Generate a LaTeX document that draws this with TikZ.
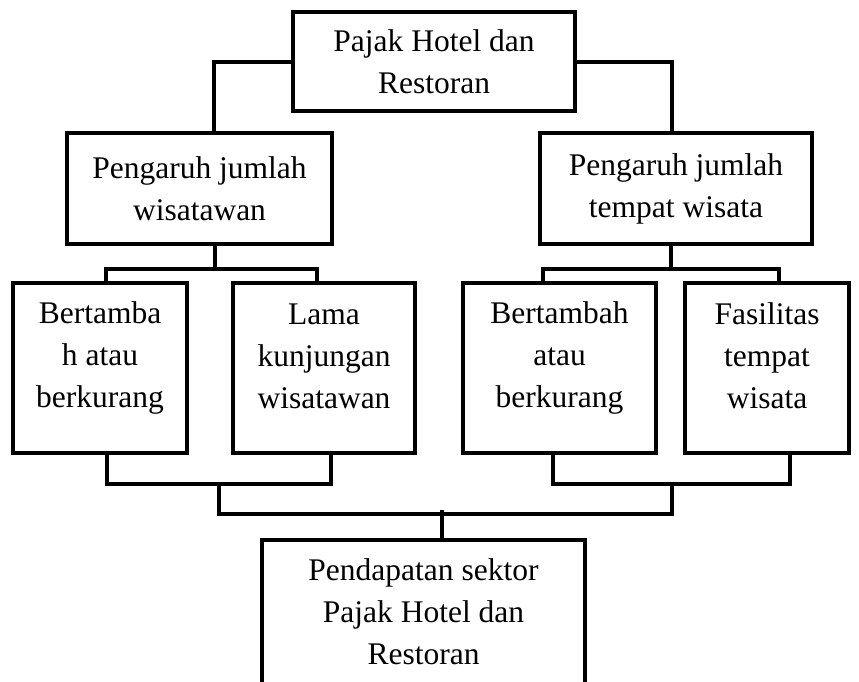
\documentclass[tikz,border=0pt]{standalone}
\usepackage{fontspec}
\setmainfont{Liberation Serif}
\newcommand\boxfont{\fontsize{31.5}{42}\selectfont}
\tikzset{
  box/.style={draw,line width=4pt,align=center,inner sep=0pt,font=\boxfont},
  boxtext/.style={font=\boxfont,align=center,inner sep=0pt},
  link/.style={line width=4pt}
}
\begin{document}
\begin{tikzpicture}[x=1pt,y=-1pt]
\useasboundingbox (0,0) rectangle (859,681);
\clip (0,0) rectangle (859,681);

\node[box,minimum width=282pt,minimum height=99pt] (tax) at (434,61.5) {Pajak Hotel dan\\Restoran};
\node[box,minimum width=265pt,minimum height=111pt] (pw) at (199.5,188.5) {Pengaruh jumlah\\wisatawan};
\node[box,minimum width=272pt,minimum height=111pt] (pt) at (676,188.5) {Pengaruh jumlah\\tempat wisata};

\node[box,minimum width=174pt,minimum height=170pt,
  label={[boxtext,yshift=10pt]center:{Bertamba\\h atau\\berkurang}}] (b1) at (100,368) {};
\node[box,minimum width=182pt,minimum height=170pt,
  label={[boxtext,yshift=12pt]center:{Lama\\kunjungan\\wisatawan}}] (lama) at (324,368) {};
\node[box,minimum width=193pt,minimum height=170pt,
  label={[boxtext,yshift=10pt]center:{Bertambah\\atau\\berkurang}}] (b2) at (559.5,368) {};
\node[box,minimum width=164pt,minimum height=170pt,
  label={[boxtext,yshift=12pt]center:{Fasilitas\\tempat\\wisata}}] (fas) at (767,368) {};

\node[box,minimum width=323pt,minimum height=154pt,
  label={[boxtext,yshift=5pt]center:{Pendapatan sektor\\Pajak Hotel dan\\Restoran}}] (income) at (423.5,617) {};

\draw[link] (tax.west) -| ([xshift=14.5pt]pw.north);
\draw[link] (tax.east) -| ([xshift=-4pt]pt.north);

\draw[link] ([xshift=15.5pt]pw.south) -- ++(0,23) coordinate (pwfork);
\draw[link] ([xshift=6pt]b1.north) |- (pwfork) -| ([xshift=-7pt]lama.north);
\draw[link] ([xshift=-5pt]pt.south) -- ++(0,23) coordinate (ptfork);
\draw[link] ([xshift=-16.5pt]b2.north) |- (ptfork) -| ([xshift=12pt]fas.north);

\draw[link] ([xshift=7pt]b1.south) -- ++(0,29) -| coordinate[pos=0.25] (lpair) ([xshift=7pt]lama.south);
\draw[link] ([xshift=-6.5pt]b2.south) -- ++(0,29) -| coordinate[pos=0.25] (rpair) ([xshift=23pt]fas.south);
\draw[link] (lpair) -- ++(0,30) -| (rpair);
\draw[link] ([xshift=18.5pt]income.north) -- ++(0,-28);
\end{tikzpicture}
\end{document}
